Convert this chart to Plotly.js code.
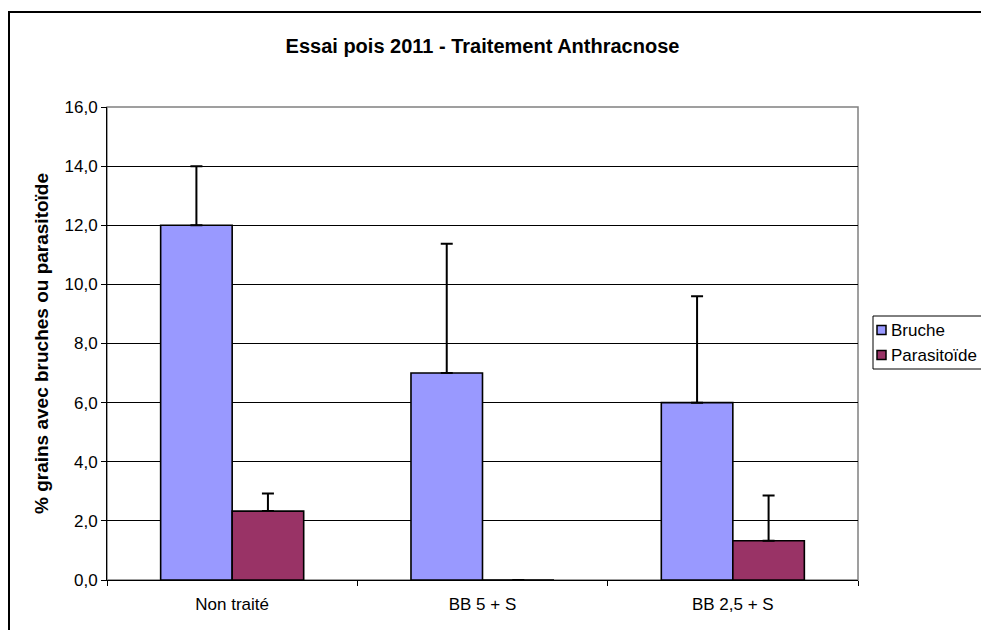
<!DOCTYPE html>
<html>
<head>
<meta charset="utf-8">
<script src="https://cdn.plot.ly/plotly-3.0.1.min.js"></script>
<style>
  html, body { margin: 0; padding: 0; background: #fff; }
  #chart { width: 981px; height: 630px; }
</style>
</head>
<body>
<div id="chart"></div>
<script>
const categories = ["Non traité", "BB 5 + S", "BB 2,5 + S"];
const brucheValues = [12.0, 7.0, 6.0];
const brucheErrors = [2.0, 4.37, 3.6];
const parasitoideValues = [2.33, 0.0, 1.33];
const parasitoideErrors = [0.6, 0.0, 1.53];
const seriesNames = ["Bruche", "Parasitoïde"];
const seriesColors = ["#9999FF", "#993366"];
const yTickValues = [0, 2, 4, 6, 8, 10, 12, 14, 16];

const font = "Liberation Sans, Arial, sans-serif";

// page geometry (pixels) of the plot area, used to place decorations
const W = 981, H = 630;
const M = { l: 107, r: 123, t: 107, b: 50 };
const plotW = W - M.l - M.r, plotH = H - M.t - M.b;
const px = v => (v - M.l) / plotW;
const py = v => (H - M.b - v) / plotH;

function zeros(n) { return new Array(n).fill(0); }

const seriesValues = [brucheValues, parasitoideValues];
const seriesErrors = [brucheErrors, parasitoideErrors];

const traces = seriesNames.map((name, i) => ({
  type: "bar",
  name: name,
  x: categories,
  y: seriesValues[i],
  showlegend: false,
  marker: { color: seriesColors[i], line: { color: "#000000", width: 1.6 } },
  error_y: {
    type: "data", symmetric: false,
    array: seriesErrors[i], arrayminus: zeros(seriesErrors[i].length),
    color: "#000000", thickness: 2, width: 6
  }
}));

// legend (drawn as a framed box with swatches and labels)
const legendTop = 316, legendBottom = 369, legendLeft = 873;
const itemY = [330, 355];
const shapes = [
  {
    type: "rect", xref: "paper", yref: "paper",
    x0: 0, x1: 1, y0: 0, y1: 1,
    line: { color: "#808080", width: 1.5 }, layer: "below"
  },
  {
    type: "rect", xref: "paper", yref: "paper",
    x0: px(9), x1: px(1200), y0: py(800), y1: py(12),
    line: { color: "#000000", width: 2 }, layer: "above"
  },
  {
    type: "rect", xref: "paper", yref: "paper",
    x0: px(legendLeft), x1: px(1100), y0: py(legendBottom), y1: py(legendTop),
    line: { color: "#000000", width: 1 }, fillcolor: "#ffffff", layer: "above"
  }
];
const annotations = [];
seriesNames.forEach((name, i) => {
  shapes.push({
    type: "rect", xref: "paper", yref: "paper",
    x0: px(877), x1: px(886), y0: py(itemY[i] + 4.5), y1: py(itemY[i] - 4.5),
    line: { color: "#000000", width: 1.5 }, fillcolor: seriesColors[i], layer: "above"
  });
  annotations.push({
    xref: "paper", yref: "paper",
    x: px(889), y: py(itemY[i]), xanchor: "left", yanchor: "middle",
    text: name, showarrow: false,
    font: { family: font, size: 17, color: "#000000" }
  });
});

const layout = {
  width: W,
  height: H,
  margin: { l: M.l, r: M.r, t: M.t, b: M.b, autoexpand: false },
  paper_bgcolor: "#ffffff",
  plot_bgcolor: "#ffffff",
  separators: ", ",
  barmode: "group",
  bargap: 0.4286,
  bargroupgap: 0,
  showlegend: false,
  font: { family: font, color: "#000000", size: 17 },
  title: {
    text: "<b>Essai pois 2011 - Traitement Anthracnose</b>",
    font: { family: font, size: 20, color: "#000000" },
    xref: "paper", x: 0.5, xanchor: "center",
    yref: "container", y: 1 - 46 / H, yanchor: "middle"
  },
  xaxis: {
    type: "category",
    showgrid: false,
    showline: true, linecolor: "#000000", linewidth: 1,
    ticks: "outside", tickson: "boundaries", ticklen: 5, tickcolor: "#000000",
    ticklabelstandoff: 9,
    tickfont: { family: font, size: 17, color: "#000000" },
    fixedrange: true
  },
  yaxis: {
    range: [0, 16],
    tickvals: yTickValues,
    tickformat: ".1f",
    showgrid: true, gridcolor: "#000000", gridwidth: 1,
    zeroline: false,
    showline: true, linecolor: "#000000", linewidth: 1,
    ticks: "outside", ticklen: 5, tickcolor: "#000000",
    tickfont: { family: font, size: 17, color: "#000000" },
    title: {
      text: "<b>% grains avec bruches ou parasitoïde</b>",
      font: { family: font, size: 19, color: "#000000" },
      standoff: 10
    },
    fixedrange: true
  },
  shapes: shapes,
  annotations: annotations
};

Plotly.newPlot("chart", traces, layout, { displayModeBar: false, staticPlot: true });
</script>
</body>
</html>
